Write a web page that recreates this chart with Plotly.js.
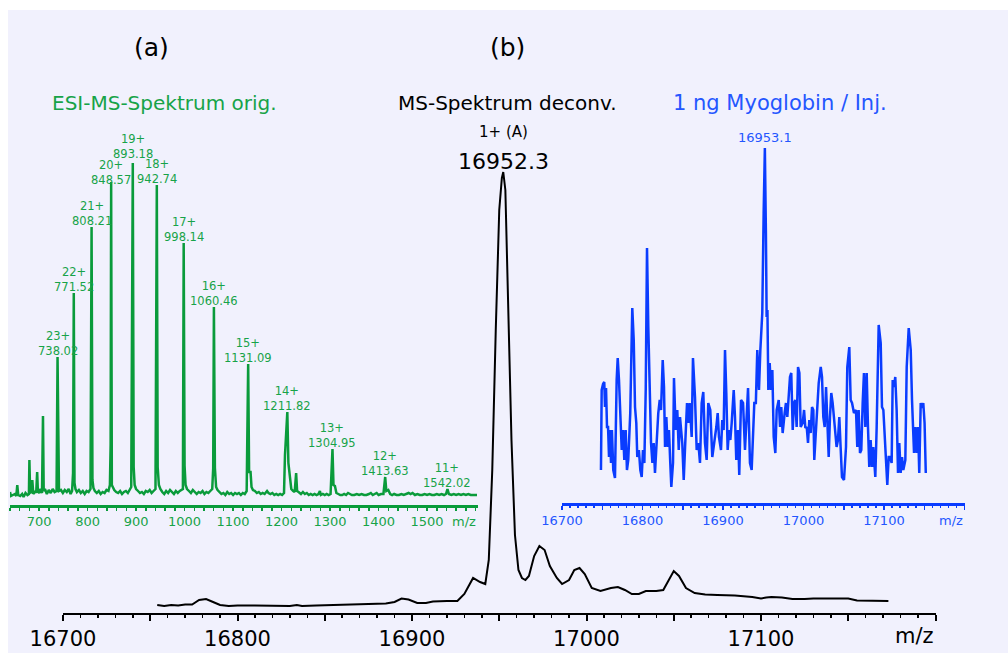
<!DOCTYPE html>
<html>
<head>
<meta charset="utf-8">
<script src="https://cdn.plot.ly/plotly-3.0.1.min.js"></script>
<style>html,body{margin:0;padding:0;background:#fff;}#chart{width:1008px;height:653px;}</style>
</head>
<body>
<div id="chart"></div>
<script>
// ---- (b) deconvoluted spectrum (black) ----
const mainMz = [16754,16758,16762,16766,16770,16774,16778,16782,16786,16790,16795,16800,16810,16820,16830,16834,16837,16845,16855,16865,16875,16885,16890,16894,16898,16903,16908,16912,16920,16926,16930,16935,16939,16942,16944,16946,16948,16950,16951.5,16952.3,16953.5,16955,16957,16959,16961,16963,16965,16967,16970,16973,16976,16979,16983,16986,16990,16993,16996,16999,17003,17008,17014,17018,17022,17026,17030,17034,17040,17044,17047,17050,17053,17057,17062,17068,17075,17085,17095,17100,17103,17106,17112,17118,17125,17130,17140,17150,17155,17165,17173];
const mainInt = [8,7,8,7.5,8.5,8.5,13,14,11,8,7,7.5,7.5,7,7,8,7,7.5,8,9,9,9.5,11,14.5,13.5,10,10,11.5,12,12,19,35,31,29,53,143,283,403,435,441,423,313,173,78,43,35,33,37,57,67,63,47,35,29,33,43,45,39,25,22,25,26,23,19,19,22,22,23,33,42,37,25,20,18.5,18,17.5,16,14.5,15.5,16,15.5,14,14,14.5,14.5,14.5,12.5,12,12];
const mainPeakMz = 16952.3;
const mainTicks = [16700,16750,16800,16850,16900,16950,17000,17050,17100,17150,17200];
const mainTickText = ['16700','','16800','','16900','','17000','','17100','',''];

// ---- (a) ESI-MS original spectrum (green) ----
const esiMz = [640,642,646,650,653,655,657,661,665,668,672,676,679,680,681.5,684,686,688,692,694,696,697.5,700,703,706,708,709.5,712,716,720,724,728,732,736,738.02,739.5,741,745,749,753,757,761,765,768,770,771.52,773,775,778,782,786,790,794,798,802,806,808.21,810,812,815,819,823,827,831,835,839,843,846,847.5,848.57,850,852,855,859,863,867,871,875,879,883,887,890,893.18,895,897,900,904,908,912,916,920,924,928,932,936,940,942.74,944.5,947,950,954,958,962,966,970,974,978,982,986,990,994,996.5,998.14,1000,1002,1005,1009,1013,1017,1021,1025,1029,1033,1037,1041,1045,1049,1053,1057,1059,1060.46,1062.5,1065,1068,1072,1076,1080,1084,1088,1092,1096,1100,1104,1108,1112,1116,1120,1124,1128,1131.09,1133,1136,1138,1141,1145,1149,1153,1157,1161,1165,1170,1173,1177,1181,1185,1189,1193,1197,1201,1205,1207,1211.82,1214,1217,1220,1224,1227,1230,1232,1235,1240,1244,1248,1252,1256,1260,1264,1268,1272,1276,1279,1281,1285,1289,1293,1297,1301,1304.95,1307,1310,1313,1317,1321,1325,1329,1333,1337,1341,1345,1350,1355,1360,1365,1370,1375,1380,1384,1388,1392,1396,1400,1405,1410,1413.63,1416,1420,1424,1428,1432,1437,1442,1447,1452,1457,1462,1466,1470,1475,1480,1485,1490,1495,1500,1505,1510,1515,1520,1525,1530,1535,1539,1542.02,1545,1550,1555,1560,1565,1570,1575,1580,1585,1590,1595,1600,1603];
const esiInt = [11,7,8,9,7,18,8,7,9,6,10,8,9,43,10,11,23,9,12,10,31,12,10,14,10,87,12,14,9,13,10,14,11,12,146,14,12,13,10,13,11,14,9,12,30,210,20,14,11,13,10,12,9,12,11,14,276,23,15,12,10,12,9,11,10,13,12,18,58,321,18,16,13,11,10,12,9,11,12,10,13,16,340,36,18,14,12,10,11,9,12,11,13,10,12,14,318,36,18,14,11,9,12,10,13,11,9,12,10,12,13,14,260,37,18,14,12,10,13,11,9,11,10,12,9,11,10,12,14,35,196,35,16,13,11,9,10,8,11,9,10,8,10,9,10,8,10,9,12,139,31,31,16,13,12,10,11,9,10,9,12,10,9,10,8,9,8,9,8,10,48,91,40,26,14,12,11,30,12,11,9,11,9,10,8,9,8,9,8,9,12,8,9,8,9,8,9,54,18,17,10,9,8,8,9,8,10,9,8,8,9,8,9,8,8,9,10,8,9,10,8,9,9,26,12,13,9,8,9,8,8,9,8,9,10,9,10,8,9,8,8,9,8,9,8,8,9,8,9,8,9,14,9,8,9,8,9,8,9,8,9,8,8,8,8];
const peakMz = [738.02,771.52,808.21,848.57,893.18,942.74,998.14,1060.46,1131.09,1211.82,1304.95,1413.63,1542.02];
const peakCharge = ['23+','22+','21+','20+','19+','18+','17+','16+','15+','14+','13+','12+','11+'];
const peakHeight = [146,210,276,321,340,318,260,196,139,91,54,26,14];
const esiTicks = [700,800,900,1000,1100,1200,1300,1400,1500];

// ---- inset: 1 ng Myoglobin / Inj. (blue) ----
const blueMz = [16748.4,16749.3,16751.0,16752.5,16753.4,16754.7,16755.9,16757.2,16758.4,16759.6,16760.9,16762.0,16763.7,16765.8,16767.9,16769.2,16770.8,16772.4,16774.2,16775.8,16777.4,16779.1,16780.7,16782.3,16784.8,16787.3,16789.1,16790.7,16792.3,16793.5,16795.5,16797.3,16799.0,16800.6,16802.3,16804.0,16805.6,16807.2,16808.9,16810.6,16812.3,16813.9,16815.5,16817.2,16819.6,16821.4,16823.0,16825.1,16826.7,16828.0,16829.6,16831.3,16832.9,16834.5,16835.8,16837.9,16839.1,16841.2,16843.2,16845.0,16846.6,16849.4,16851.2,16852.9,16855.3,16857.0,16858.6,16861.1,16862.7,16865.2,16867.3,16869.4,16871.4,16873.5,16875.5,16877.6,16879.7,16881.7,16884.2,16886.7,16889.2,16891.7,16893.4,16895.0,16897.5,16899.1,16900.8,16902.5,16904.1,16905.8,16907.5,16909.1,16910.8,16913.3,16914.9,16916.5,16918.6,16920.2,16922.4,16924.9,16927.3,16929.0,16931.1,16933.5,16935.6,16938.9,16940.8,16942.6,16944.7,16946.4,16948.8,16950.5,16952.0,16953.3,16954.2,16955.2,16956.3,16958.0,16959.6,16961.3,16963.0,16965.0,16966.7,16969.2,16970.9,16972.4,16974.1,16976.6,16978.2,16979.9,16981.6,16983.2,16984.8,16986.6,16988.2,16989.8,16991.5,16993.2,16994.9,16996.5,16999.0,17000.7,17002.3,17004.0,17005.6,17007.2,17008.9,17010.6,17012.2,17013.4,17015.5,17017.1,17018.9,17021.4,17023.0,17024.6,17026.3,17028.0,17029.6,17031.3,17032.9,17034.5,17036.2,17037.8,17039.5,17041.1,17042.8,17044.5,17046.1,17047.8,17050.3,17052.8,17054.4,17056.9,17058.6,17060.3,17062.7,17065.2,17066.8,17068.5,17070.2,17071.8,17073.5,17075.1,17076.8,17078.5,17080.1,17081.7,17083.4,17085.1,17086.7,17089.2,17090.9,17093.4,17095.9,17097.5,17099.2,17100.9,17102.5,17104.1,17105.8,17107.4,17109.5,17110.8,17112.4,17114.0,17115.7,17117.4,17119.0,17120.7,17122.4,17124.0,17126.5,17128.2,17130.7,17133.2,17134.8,17137.3,17139.0,17140.6,17142.3,17143.8,17145.6,17147.2,17148.8,17150.4,17151.9];
const blueInt = [33,113,119,121,96,115,76,76,46,73,40,73,33,25,123,145,123,86,53,73,43,73,33,43,90,195,163,96,80,46,53,33,26,53,40,113,255,176,113,60,40,60,30,56,90,103,93,143,116,56,86,56,73,40,16,40,125,73,93,53,86,60,23,56,100,80,100,66,145,106,53,60,40,100,111,60,43,100,93,46,60,76,90,66,53,83,73,153,110,53,73,63,80,113,86,43,73,28,103,100,53,86,115,40,33,100,100,153,113,153,190,290,355,270,186,193,113,140,113,133,66,50,93,103,76,96,70,90,100,86,103,126,130,73,100,103,76,136,130,76,80,93,75,76,60,83,70,96,93,43,73,103,120,136,126,86,76,116,70,46,86,110,100,86,63,56,63,86,56,26,23,56,136,156,103,100,90,93,56,93,50,53,100,130,76,130,76,36,63,36,56,26,76,178,160,96,93,63,50,18,46,46,40,123,116,126,93,30,60,30,46,33,43,136,175,153,103,50,76,50,76,30,100,95,100,80,30];
const bluePeakMz = 16952.0;
const bluePeakLabel = '16953.1';
const blueTicks = [16700,16750,16800,16850,16900,16950,17000,17050,17100,17150,17200];
const blueTickText = ['16700','','16800','','16900','','17000','','17100','',''];

const GREEN = '#0a9b3b', GREEN_T = '#17a348', BLUE = '#0a3cff', BLUE_T = '#2456ff';
const FONT = 'DejaVu Sans';
const W = 1008, H = 653;
const px = v => v / W, py = v => 1 - v / H;
// label placement style: per-charge vertical nudge (pixels)
const labelNudge = {'20+': -7, '19+': 0};

const traces = [
  {x: mainMz, y: mainInt, xaxis: 'x', yaxis: 'y', mode: 'lines', line: {color: '#000', width: 2}, hoverinfo: 'skip'},
  {x: esiMz, y: esiInt, xaxis: 'x2', yaxis: 'y2', mode: 'lines', line: {color: GREEN, width: 2.5}, hoverinfo: 'skip'},
  {x: blueMz, y: blueInt, xaxis: 'x3', yaxis: 'y3', mode: 'lines', line: {color: BLUE, width: 2.5}, hoverinfo: 'skip'}
];

function note(text, xref, x, y, size, color, xanchor) {
  return {text: text, xref: xref, yref: 'paper', x: x, y: py(y), xanchor: xanchor || 'center', yanchor: 'middle',
    showarrow: false, font: {family: FONT, size: size, color: color}};
}
const annotations = [
  note('(a)', 'paper', px(151), 47, 25, '#000'),
  note('(b)', 'paper', px(507), 47, 25, '#000'),
  note('ESI-MS-Spektrum orig.', 'paper', px(164), 103, 20, GREEN_T),
  note('MS-Spektrum deconv.', 'paper', px(507), 103, 20, '#000'),
  note('1+ (A)', 'x', mainPeakMz, 132, 15, '#000'),
  note(String(mainPeakMz), 'x', mainPeakMz, 161, 22, '#000'),
  note('1 ng Myoglobin / Inj.', 'paper', px(780), 103, 21, BLUE_T),
  note(bluePeakLabel, 'x3', bluePeakMz, 137, 13, BLUE_T),
  note('m/z', 'x', 17200, 636, 21, '#000', 'right'),
  note('m/z', 'x2', 1605, 521, 13, GREEN_T, 'right'),
  note('m/z', 'x3', 17200, 520, 13, BLUE_T, 'right')
];
peakMz.forEach((m, i) => {
  const nudge = (peakCharge[i] in labelNudge) ? labelNudge[peakCharge[i]] : -3;
  annotations.push({text: peakCharge[i] + '<br>' + m.toFixed(2), xref: 'x2', yref: 'y2', x: m, y: peakHeight[i],
    xanchor: 'center', yanchor: 'bottom', showarrow: false, yshift: nudge, font: {family: FONT, size: 11.5, color: GREEN_T}});
});

const layout = {
  width: W, height: H,
  margin: {l: 0, r: 0, t: 0, b: 0},
  paper_bgcolor: '#ffffff', plot_bgcolor: 'rgba(0,0,0,0)',
  showlegend: false,
  font: {family: FONT},
  shapes: [{type: 'rect', xref: 'paper', yref: 'paper', x0: px(8), x1: 1, y0: 0, y1: py(10), fillcolor: '#f1f1fd', line: {width: 0}, layer: 'below'}],
  xaxis: {domain: [px(63), px(935.5)], range: [16700, 17200], anchor: 'y', showgrid: false, zeroline: false,
    showline: true, linecolor: '#000', linewidth: 2, ticks: 'outside', ticklen: 6, tickwidth: 2, tickcolor: '#000',
    tickmode: 'array', tickvals: mainTicks, ticktext: mainTickText, tickfont: {family: FONT, size: 21, color: '#000'},
    minor: {tickmode: 'linear', tick0: 16700, dtick: 10, ticks: 'outside', ticklen: 3, tickwidth: 1.5, tickcolor: '#000', showgrid: false}},
  yaxis: {domain: [1 - 613 / H, 1 - 160 / H], range: [0, 453], visible: false, fixedrange: true},
  xaxis2: {domain: [px(10), px(478)], range: [640, 1605], anchor: 'y2', showgrid: false, zeroline: false,
    showline: true, linecolor: GREEN, linewidth: 2.5, ticks: 'outside', ticklen: 3, tickwidth: 1.5, tickcolor: GREEN,
    tickmode: 'array', tickvals: esiTicks, ticktext: esiTicks.map(String), tickfont: {family: FONT, size: 13, color: GREEN_T},
    minor: {tickmode: 'linear', tick0: 640, dtick: 20, ticks: 'outside', ticklen: 3, tickwidth: 1.5, tickcolor: GREEN, showgrid: false}},
  yaxis2: {domain: [1 - 505 / H, 1 - 160 / H], range: [-2, 343], visible: false, fixedrange: true},
  xaxis3: {domain: [px(562), px(964.5)], range: [16700, 17200], anchor: 'y3', showgrid: false, zeroline: false,
    showline: true, linecolor: BLUE, linewidth: 2.5, ticks: 'outside', ticklen: 4, tickwidth: 1.5, tickcolor: BLUE,
    tickmode: 'array', tickvals: blueTicks, ticktext: blueTickText, tickfont: {family: FONT, size: 13, color: BLUE_T},
    minor: {tickmode: 'linear', tick0: 16700, dtick: 10, ticks: 'outside', ticklen: 2, tickwidth: 1.5, tickcolor: BLUE, showgrid: false}},
  yaxis3: {domain: [1 - 503 / H, 1 - 140 / H], range: [0, 363], visible: false, fixedrange: true},
  annotations: annotations
};

Plotly.newPlot('chart', traces, layout, {displayModeBar: false, staticPlot: true});
</script>
</body>
</html>
